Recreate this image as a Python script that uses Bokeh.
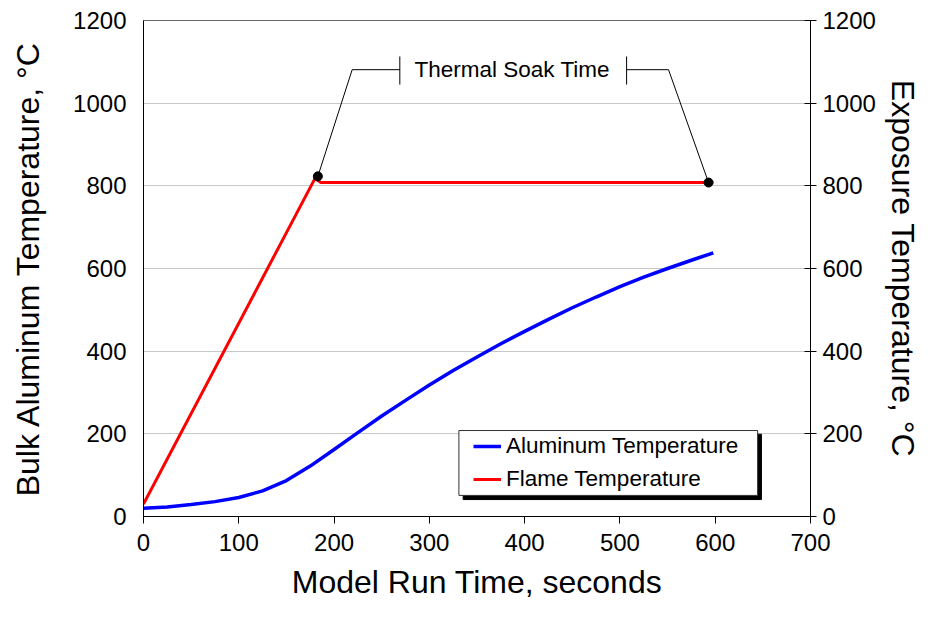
from bokeh.plotting import figure
from bokeh.models import Range1d, LinearAxis, Legend, LegendItem, FixedTicker
from bokeh.core.properties import value
from bokeh.embed import file_html
from bokeh.resources import INLINE

# --- data ---
time_al = [0, 25, 50, 75, 100, 125, 150, 175, 200, 225, 250, 275, 300, 325, 350,
           375, 400, 425, 450, 475, 500, 525, 550, 575, 598]
temp_al = [20, 23, 29, 36, 46, 62, 87, 122, 162, 203, 243, 281, 318, 353, 386,
           418, 448, 477, 505, 531, 556, 579, 600, 620, 638]

time_flame = [0, 180, 186, 598]
temp_flame = [30, 818, 808, 808]

soak_points_x = [183, 593]
soak_points_y = [823, 808]

left_leader_x = [183, 219, 269]
left_leader_y = [823, 1081, 1081]
right_leader_x = [507, 551, 593]
right_leader_y = [1081, 1081, 808]
tick_marks_x = [269, 507]
tick_top = 1113
tick_bottom = 1045
soak_label = "Thermal Soak Time"
soak_label_x = 387
soak_label_y = 1081

x_ticks = [0, 100, 200, 300, 400, 500, 600, 700]
y_ticks = [0, 200, 400, 600, 800, 1000, 1200]

FONT = "Liberation Sans"

p = figure(width=923, height=607, x_range=Range1d(0, 700), y_range=Range1d(0, 1200),
           output_backend="svg", toolbar_location=None,
           min_border_left=143, min_border_right=113, min_border_top=20, min_border_bottom=91)
p.extra_y_ranges = {"right": Range1d(0, 1200)}

p.background_fill_color = "white"
p.outline_line_color = "#666666"
p.outline_line_width = 1
p.xgrid.grid_line_color = None
p.ygrid.grid_line_color = "#c8c8c8"
p.ygrid.ticker = FixedTicker(ticks=y_ticks)

# bottom axis
xa = p.xaxis[0]
xa.ticker = FixedTicker(ticks=x_ticks)
xa.axis_label = "Model Run Time, seconds"
xa.major_tick_out = 7
xa.major_tick_in = 0
xa.minor_tick_out = 0
xa.minor_tick_in = 0
xa.major_label_standoff = 10
xa.axis_label_standoff = 10

# left axis
ya = p.yaxis[0]
ya.ticker = FixedTicker(ticks=y_ticks)
ya.axis_label = "Bulk Aluminum Temperature, °C"
ya.major_tick_out = 0
ya.major_tick_in = 0
ya.minor_tick_out = 0
ya.minor_tick_in = 0
ya.major_label_standoff = 17
ya.axis_label_standoff = 24

# right axis
ra = LinearAxis(y_range_name="right", ticker=FixedTicker(ticks=y_ticks),
                axis_label="Exposure Temperature, °C")
ra.major_tick_out = 6
ra.major_tick_in = 6
ra.minor_tick_out = 0
ra.minor_tick_in = 0
ra.major_label_standoff = 6
ra.axis_label_standoff = 6
p.add_layout(ra, "right")

for ax in [xa, ya, ra]:
    ax.axis_line_color = "black"
    ax.axis_line_width = 1
    ax.major_tick_line_color = "black"
    ax.major_label_text_font = FONT
    ax.major_label_text_font_size = "24px"
    ax.major_label_text_color = "black"
    ax.axis_label_text_font = FONT
    ax.axis_label_text_font_size = "32px"
    ax.axis_label_text_font_style = "normal"
    ax.axis_label_text_color = "black"

# legend box with shadow
p.quad(left=[335.5], right=[648.5], top=[199], bottom=[41], fill_color="black", line_color="black")
p.quad(left=[331], right=[644.5], top=[208], bottom=[51], fill_color="white", line_color="#333333", line_width=1)

# data lines
r_al = p.line(time_al, temp_al, line_color="#0000ff", line_width=3.5)
r_fl = p.line(time_flame, temp_flame, line_color="#ff0000", line_width=3)

# annotation
p.line(left_leader_x, left_leader_y, line_color="black", line_width=1)
p.line(right_leader_x, right_leader_y, line_color="black", line_width=1)
p.segment(x0=tick_marks_x, y0=[tick_bottom] * 2, x1=tick_marks_x, y1=[tick_top] * 2,
          line_color="black", line_width=1)
p.text(x=[soak_label_x], y=[soak_label_y], text=[soak_label], text_font=value(FONT),
       text_font_size="22.5px", text_align="center", text_baseline="middle", text_color="black")
p.scatter(soak_points_x, soak_points_y, size=9, fill_color="black", line_color="black")

legend = Legend(items=[LegendItem(label="Aluminum Temperature", renderers=[r_al]),
                       LegendItem(label="Flame Temperature", renderers=[r_fl])],
                location=(330, 24))
legend.border_line_alpha = 0
legend.background_fill_alpha = 0
legend.padding = 0
legend.margin = 0
legend.spacing = 7
legend.label_height = 26
legend.glyph_height = 26
legend.glyph_width = 28
legend.label_standoff = 5
legend.label_text_font = FONT
legend.label_text_font_size = "22.5px"
legend.label_text_color = "black"
p.add_layout(legend, "center")

open("out.html", "w").write(file_html(p, INLINE))
